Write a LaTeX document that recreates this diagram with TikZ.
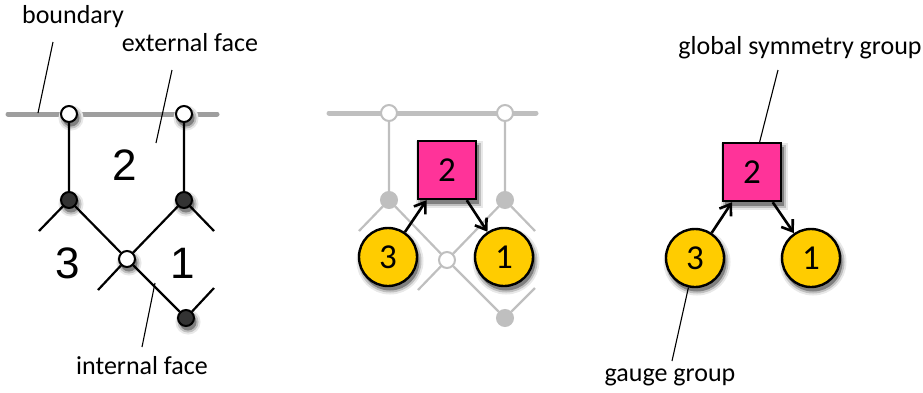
\documentclass[tikz,border=0pt]{standalone}
\usepackage{fontspec}
\setmainfont{Carlito}
\newfontfamily\digitfont{Liberation Sans}
\usetikzlibrary{arrows.meta}
\definecolor{gaugeyellow}{RGB}{255,204,0}
\definecolor{flavourpink}{RGB}{255,51,153}

\begin{document}
\begin{tikzpicture}[
    x=1pt, y=-1pt,
    every node/.style={inner sep=0pt},
    caption/.style={font=\fontsize{26}{30}\selectfont},
    pointer/.style={line width=1.1pt},
    bnd/.style={line width=5pt, line cap=round},
    edge/.style={line width=2.2pt},
    wv/.style={circle, draw, fill=white, line width=2pt, minimum size=16pt},
    bv/.style={circle, draw, fill=black!80, line width=2pt, minimum size=16pt},
    halo/.style={
        preaction={draw=black!9, fill=black!9, line width=9pt,
            transform canvas={shift={(2pt,-4pt)}}},
        preaction={draw=black!25, fill=black!25, line width=5pt,
            transform canvas={shift={(2pt,-4pt)}}},
        preaction={draw=black!50, fill=black!50, line width=1pt,
            transform canvas={shift={(2pt,-4pt)}}}},
    gauge/.style={circle, draw, fill=gaugeyellow, line width=2.4pt, minimum size=58pt,
        font=\fontsize{35}{38}\selectfont, halo},
    flavour/.style={rectangle, draw, fill=flavourpink, line width=2.4pt, minimum size=58pt,
        font=\fontsize{35}{38}\selectfont, halo},
    quiver/.style={line width=2.6pt, -{Straight Barb[length=10pt, width=14pt, line width=2.6pt]}}]

  \useasboundingbox (0,0) rectangle (923,392);

  % left: bipartite graph
  \draw[bnd, black!38] (8,114) coordinate (bl) -- (217,114) coordinate (br);
  \node[wv, halo] (w1) at (69,114) {};
  \node[wv, halo] (w2) at (184,114) {};
  \node[bv, halo] (b1) at (69,200) {};
  \node[bv, halo] (b2) at (184,200) {};
  \node[wv, halo] (w3) at (127,259) {};
  \node[bv, halo] (b3) at (186,318) {};
  \coordinate (s1) at (39,231);
  \coordinate (s2) at (214,231);
  \coordinate (s3) at (98,290);
  \coordinate (s4) at (214,288);
  \draw[edge] (w1) -- (b1) (w2) -- (b2) (b1) -- (w3) (b2) -- (w3) (w3) -- (b3)
              (b1) -- (s1) (b2) -- (s2) (w3) -- (s3) (b3) -- (s4);

  \node[font=\digitfont\fontsize{44}{46}\selectfont] (f2) at (125,165) {2};
  \node[font=\digitfont\fontsize{44}{46}\selectfont] (f3) at (68,263) {3};
  \node[font=\digitfont\fontsize{44}{46}\selectfont] (f1) at (183,263) {1};

  \node[caption] (lbnd) at (73,17) {boundary};
  \node[caption] (lext) at (190,43) {external face};
  \node[caption] (lint) at (142,366) {internal face};
  \coordinate (pb) at (38,113);
  \coordinate (pe) at (156,143);
  \coordinate (pi) at (155,283);
  \draw[pointer] (53,42) -- (pb);
  \draw[pointer] (172,70) -- (pe);
  \draw[pointer] (142,347) -- (pi);

  % middle: graph faded, quiver on top
  \begin{scope}[black!25, xshift=320pt]
    \draw[bnd] (9,113) coordinate (gl) -- (216,113) coordinate (gr);
    \node[wv, draw=black!25] (gw1) at (69,113) {};
    \node[wv, draw=black!25] (gw2) at (185,113) {};
    \node[bv, draw=black!25, fill=black!25] (gb1) at (69,200) {};
    \node[bv, draw=black!25, fill=black!25] (gb2) at (185,200) {};
    \node[wv, draw=black!25] (gw3) at (127,260) {};
    \node[bv, draw=black!25, fill=black!25] (gb3) at (185,318) {};
    \coordinate (gs1) at (39,231);
    \coordinate (gs2) at (215,231);
    \coordinate (gs3) at (98,290);
    \coordinate (gs4) at (215,288);
    \draw[edge] (gw1) -- (gb1) (gw2) -- (gb2) (gb1) -- (gw3) (gb2) -- (gw3) (gw3) -- (gb3)
                (gb1) -- (gs1) (gb2) -- (gs2) (gw3) -- (gs3) (gb3) -- (gs4);
  \end{scope}

  \node[flavour] (m2) at (447,170) {2};
  \node[gauge] (m3) at (388,257) {3};
  \node[gauge] (m1) at (504,257) {1};
  \draw[quiver] (m3) -- (m2);
  \draw[quiver] (m2) -- (m1);

  % right: quiver alone
  \node[flavour] (q2) at (752,172) {2};
  \node[gauge] (q3) at (695,258) {3};
  \node[gauge] (q1) at (811,258) {1};
  \draw[quiver] (q3) -- (q2);
  \draw[quiver] (q2) -- (q1);

  \node[caption] (lglob) at (800,48) {global symmetry group};
  \node[caption] (lgauge) at (670,377) {gauge group};
  \draw[pointer] (778,70) -- (q2);
  \draw[pointer] (672,361) -- (q3);
\end{tikzpicture}
\end{document}
